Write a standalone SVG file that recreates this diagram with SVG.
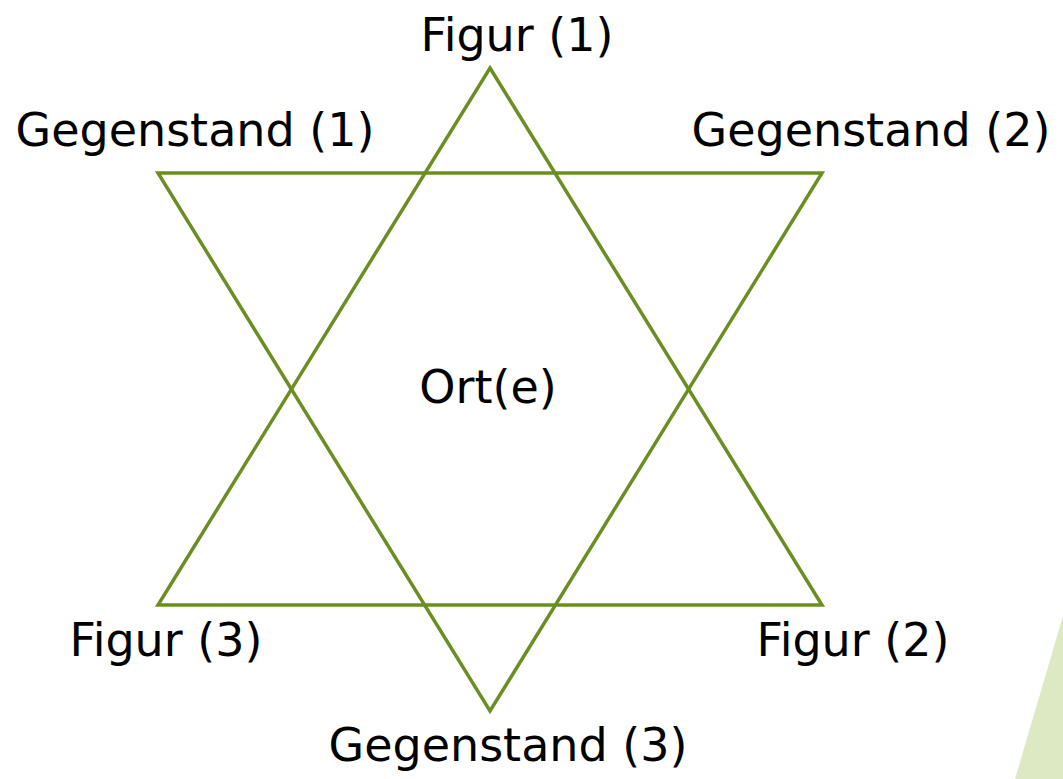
<svg xmlns="http://www.w3.org/2000/svg" width="1063" height="779" viewBox="0 0 1063 779">
<style>
.lbl{font-family:"DejaVu Sans","Open Sans",sans-serif;font-size:46px;fill:#000;text-anchor:middle}
.tri{fill:none;stroke:#6b8e23;stroke-width:3.5;stroke-linejoin:miter}
</style>
<rect width="1063" height="779" fill="#fff"/>
<polygon points="1015,779 1063,616 1063,779" fill="#dde9c3"/>
<g id="connectors">
<polygon id="tri-up" class="tri" points="490,68 822,605 158,605"/>
<polygon id="tri-down" class="tri" points="158,173 822,173 490,711"/>
</g>
<g id="figur1"><text class="lbl" x="517" y="51">Figur (1)</text></g>
<g id="gegenstand1"><text class="lbl" x="195" y="146">Gegenstand (1)</text></g>
<g id="gegenstand2"><text class="lbl" x="871" y="146">Gegenstand (2)</text></g>
<g id="orte"><text class="lbl" x="488" y="403">Ort(e)</text></g>
<g id="figur3"><text class="lbl" x="166" y="656">Figur (3)</text></g>
<g id="figur2"><text class="lbl" x="853" y="656">Figur (2)</text></g>
<g id="gegenstand3"><text class="lbl" x="508" y="761">Gegenstand (3)</text></g>
</svg>
